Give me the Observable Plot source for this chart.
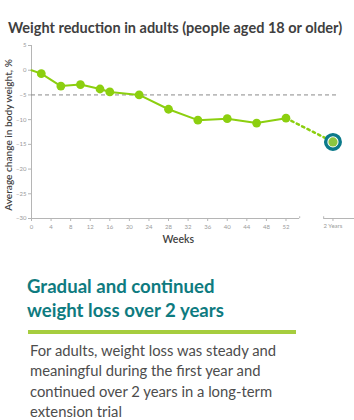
<!DOCTYPE html>
<html>
<head>
<meta charset="utf-8">
<script src="https://cdn.jsdelivr.net/npm/d3@7"></script>
<script src="https://cdn.jsdelivr.net/npm/@observablehq/plot@0.6"></script>
<style>
  html, body { margin: 0; padding: 0; background: #fff; }
  body { position: relative; width: 354px; height: 420px; overflow: hidden; font-family: Lato, "Open Sans", sans-serif; }
  #title { position: absolute; left: 8px; top: 19px; font-size: 14.5px; line-height: 18px; font-weight: 700; color: #3f3f3f; white-space: nowrap; }
  #chart { position: absolute; left: 0; top: 38px; }
  #heading { position: absolute; left: 27px; top: 274px; font-size: 18.6px; line-height: 24px; font-weight: 700; color: #0e7b80; white-space: nowrap; }
  #rule { position: absolute; left: 28px; top: 330px; width: 268px; height: 3.5px; background: #a6cd3e; }
  #body { position: absolute; left: 30px; top: 340px; font-size: 14.8px; line-height: 20.4px; color: #4d4d4d; white-space: nowrap; }
</style>
</head>
<body>
<div id="title">Weight reduction in adults (people aged 18 or older)</div>
<div id="chart"></div>
<div id="heading">Gradual and continued<br>weight loss over 2 years</div>
<div id="rule"></div>
<div id="body">For adults, weight loss was steady and<br>meaningful during the first year and<br>continued over 2 years in a long-term<br>extension trial</div>
<script>
const weeks = [0, 2, 6, 10, 14, 16, 22, 28, 34, 40, 46, 52];
const change = [0, -0.7, -3.2, -2.9, -3.8, -4.4, -5.0, -7.9, -10.1, -9.8, -10.7, -9.7];
const twoYearLabel = "2 Years";
const twoYearChange = -14.5;
const xTicks = [0, 4, 8, 12, 16, 20, 24, 28, 32, 36, 40, 44, 48, 52];
const yTicks = [5, 0, -5, -10, -15, -20, -25, -30];
const targetChange = -5;
const xLabel = "Weeks";
const yLabel = "Average change in body weight, %";

// layout constants (positions on the week scale for the broken axis)
const TWO_YEAR_X = 61.6;
const AXIS1_END = 54.8;
const AXIS2_START = 59.7;
const X_MAX = 66;
const Y_MIN = -30, Y_MAX = 5;

const green = "#8ccf0f";
const teal = "#0b7a8a";
const axisGray = "#b5b5b5";

const pts = weeks.map((w, i) => ({week: w, change: change[i]}));
const markerPts = pts.slice(1);
const lastPt = pts[pts.length - 1];
const twoYear = [{week: TWO_YEAR_X, change: twoYearChange, label: twoYearLabel}];
const dotted = [lastPt, twoYear[0]];

const chart = Plot.plot({
  width: 354,
  height: 212,
  marginLeft: 31,
  marginRight: 0,
  marginTop: 7,
  marginBottom: 32,
  style: {fontFamily: "Lato, 'Open Sans', sans-serif", fontSize: "6px", color: "#9a9a9a", background: "transparent", overflow: "visible"},
  x: {type: "linear", domain: [0, X_MAX]},
  y: {type: "linear", domain: [Y_MIN, Y_MAX]},
  marks: [
    // axes
    Plot.axisY({ticks: yTicks, tickSize: 3, tickPadding: 2, stroke: axisGray, fill: "#9a9a9a", label: null}),
    Plot.axisX({ticks: xTicks, tickSize: 3, tickPadding: 3, stroke: axisGray, fill: "#9a9a9a", label: null}),
    Plot.ruleX([0], {y1: Y_MIN, y2: Y_MAX, stroke: axisGray}),
    Plot.ruleY([Y_MIN], {x1: 0, x2: AXIS1_END, stroke: axisGray}),
    Plot.ruleY([Y_MIN], {x1: AXIS2_START, x2: X_MAX, stroke: axisGray}),
    Plot.ruleX([AXIS1_END, AXIS2_START], {y1: Y_MIN, y2: Y_MIN + 0.35, stroke: axisGray}),
    Plot.ruleX(twoYear, {x: "week", y1: Y_MIN, y2: Y_MIN - 0.6, stroke: axisGray}),
    Plot.text(twoYear, {x: "week", y: () => Y_MIN, text: "label", dy: 8, fill: "#9a9a9a", fontSize: 6}),
    // target line
    Plot.ruleY([targetChange], {x1: 0, x2: 62.7, stroke: "#8a8a8a", strokeDasharray: "4,3", strokeWidth: 1}),
    // series
    Plot.line(pts, {x: "week", y: "change", stroke: green, strokeWidth: 2}),
    Plot.line(dotted, {x: "week", y: "change", stroke: green, strokeWidth: 2.5, strokeDasharray: "2.5,3.5"}),
    Plot.dot(markerPts, {x: "week", y: "change", r: 4.4, fill: green}),
    Plot.dot(twoYear, {x: "week", y: "change", r: 7.3, fill: "white", stroke: teal, strokeWidth: 3.4}),
    Plot.dot(twoYear, {x: "week", y: "change", r: 4.6, fill: "#8cc63f"}),
    // labels
    Plot.text([xLabel], {x: () => 30, y: () => Y_MIN, dy: 21, fill: "#3f3f3f", fontSize: 10.5, fontWeight: 600}),
    Plot.text([yLabel], {frameAnchor: "left", textAnchor: "middle", y: () => -13.1, dx: -23, rotate: -90, fill: "#3f3f3f", fontSize: 10.1, fontWeight: 600})
  ]
});
document.getElementById("chart").appendChild(chart);
</script>
</body>
</html>
